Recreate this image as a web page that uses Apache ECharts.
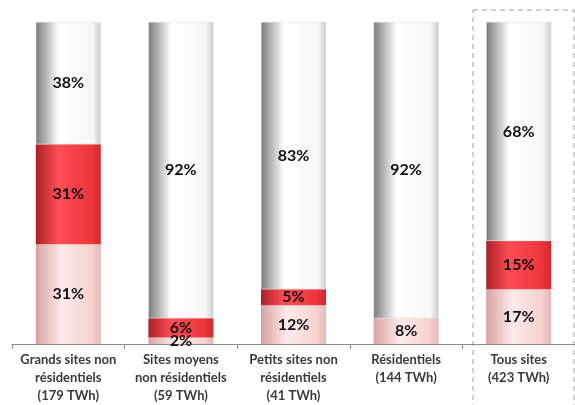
<!DOCTYPE html>
<html>
<head>
<meta charset="utf-8">
<script src="https://cdn.jsdelivr.net/npm/echarts@6/dist/echarts.min.js"></script>
<style>
  html, body { margin: 0; padding: 0; background: #fff; }
  #chart { width: 575px; height: 405px; }
</style>
</head>
<body>
<div id="chart"></div>
<script>
  // catégories et parts (%) par segment, de bas en haut
  var categories = [
    'Grands sites non\nrésidentiels\n(179 TWh)',
    'Sites moyens\nnon résidentiels\n(59 TWh)',
    'Petits sites non\nrésidentiels\n(41 TWh)',
    'Résidentiels\n(144 TWh)',
    'Tous sites\n(423 TWh)'
  ];
  var partBas = [31, 2, 12, 8, 17];
  var partRouge = [31, 6, 5, 0, 15];
  var partHaut = [38, 92, 83, 92, 68];

  function grad(stops) {
    return new echarts.graphic.LinearGradient(0, 0, 1, 0, stops.map(function (s) {
      return { offset: s[0], color: s[1] };
    }));
  }

  var labelStyle = {
    show: true,
    position: 'inside',
    fontFamily: 'Lato',
    fontWeight: 'bold',
    fontSize: 16,
    color: '#111',
    formatter: function (p) { return p.value > 0 ? p.value + '%' : ''; }
  };

  var chartDom = document.getElementById('chart');
  var myChart = echarts.init(chartDom);
  var option = {
    animation: false,
    grid: { left: 12, top: 22, width: 570, height: 322 },
    xAxis: {
      type: 'category',
      data: categories,
      axisLine: { lineStyle: { color: '#8c8c8c', width: 1 } },
      axisTick: { show: true, length: 5, lineStyle: { color: '#8c8c8c' } },
      axisLabel: {
        interval: 0,
        fontFamily: 'Lato',
        fontWeight: 'bold',
        fontSize: 13,
        color: '#3a3a3a',
        lineHeight: 18,
        margin: 7
      }
    },
    yAxis: { type: 'value', min: 0, max: 100, show: false },
    graphic: [{
      type: 'rect',
      shape: { x: 473, y: 10, width: 101, height: 400 },
      style: { fill: 'none', stroke: '#a0a0a0', lineWidth: 1, lineDash: [5, 4] },
      z: 0
    }],
    series: [
      {
        name: 'bas',
        type: 'bar',
        stack: 'total',
        barWidth: 65,
        data: partBas,
        label: labelStyle,
        itemStyle: {
          color: grad([[0, '#d6a3a1'], [0.4, '#fdeaea'], [0.85, '#f6d3d1'], [1, '#e4b8b6']])
        }
      },
      {
        name: 'rouge',
        type: 'bar',
        stack: 'total',
        data: partRouge,
        label: labelStyle,
        itemStyle: {
          color: grad([[0, '#a92227'], [0.35, '#ff4d55'], [0.85, '#ee353c'], [1, '#cf2a30']])
        }
      },
      {
        name: 'haut',
        type: 'bar',
        stack: 'total',
        data: partHaut,
        label: labelStyle,
        itemStyle: {
          color: grad([[0, '#7a7a7a'], [0.35, '#ffffff'], [0.88, '#f7f7f7'], [1, '#cccccc']]),
          borderColor: '#d8d8d8',
          borderWidth: 0.5
        }
      }
    ]
  };
  option && myChart.setOption(option);
</script>
</body>
</html>
